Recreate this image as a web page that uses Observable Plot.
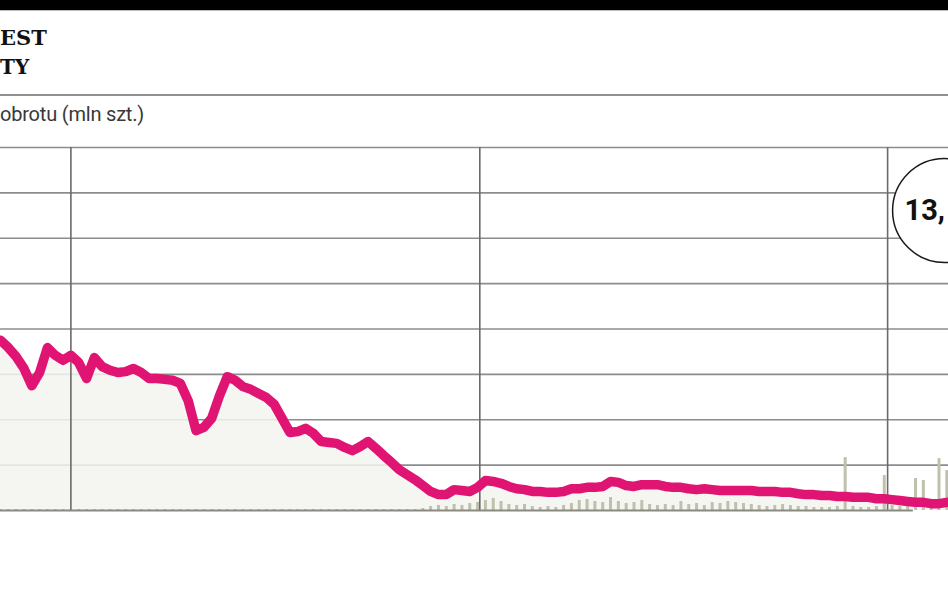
<!DOCTYPE html>
<html>
<head>
<meta charset="utf-8">
<script src="https://cdn.jsdelivr.net/npm/d3@7"></script>
<script src="https://cdn.jsdelivr.net/npm/@observablehq/plot@0.6"></script>
<style>
  html, body { margin: 0; padding: 0; background: #fff; }
  body { width: 948px; height: 593px; overflow: hidden; position: relative; }
  .topbar { position: absolute; left: 0; top: 0; width: 948px; height: 10px; background: #000; border-bottom: 1px solid #bbb; }
  .t1, .t2 { position: absolute; left: 0; font-family: "DejaVu Serif", serif; font-weight: bold; line-height: 1; color: #111; }
  .t1 { top: 27px; font-size: 21px; }
  .t2 { top: 57px; font-size: 20px; }
  .sep { position: absolute; left: 0; top: 94px; width: 948px; height: 2px; background: #909090; }
  .sub { position: absolute; left: 0; top: 104px; font-family: Roboto, sans-serif; font-size: 20px; line-height: 1; color: #383838; letter-spacing: -0.2px; }
  #chart { position: absolute; left: 0; top: 140px; }
</style>
</head>
<body>
<div class="topbar"></div>
<div class="t1">EST</div>
<div class="t2">TY</div>
<div class="sep"></div>
<div class="sub">obrotu (mln szt.)</div>
<div id="chart"></div>
<script>
// Weekly closing values (first week starts 2007-10-30)
const startDate = "2007-10-30";
const price = [
  37.5, 35.9, 33.9, 31.3, 27.5, 30.4, 35.9, 34.2, 33.1, 34.2,
  32.6, 29.1, 33.7, 31.7, 30.9, 30.4, 30.6, 31.3, 30.4, 29.1,
  29.1, 28.9, 28.7, 28.0, 24.2, 17.6, 18.3, 20.3, 25.3, 29.5,
  28.7, 27.3, 26.7, 25.8, 24.9, 23.4, 20.3, 17.2, 17.4, 18.1,
  17.0, 15.2, 15.0, 14.8, 13.9, 13.2, 14.1, 15.2, 13.7, 12.1,
  10.6, 9.0, 7.9, 6.8, 5.5, 4.2, 3.5, 3.5, 4.6, 4.4,
  4.2, 5.1, 6.6, 6.4, 6.0, 5.3, 4.8, 4.6, 4.2, 4.2,
  4.0, 4.0, 4.2, 4.8, 4.8, 5.1, 5.1, 5.3, 6.4, 6.2,
  5.5, 5.3, 5.7, 5.7, 5.7, 5.3, 5.1, 5.1, 4.8, 4.6,
  4.8, 4.6, 4.4, 4.4, 4.4, 4.4, 4.4, 4.2, 4.2, 4.2,
  4.0, 4.0, 3.7, 3.5, 3.5, 3.3, 3.3, 3.1, 3.1, 2.9,
  2.9, 2.9, 2.6, 2.6, 2.4, 2.2, 2.0, 1.8, 1.8, 1.5,
  1.5, 1.8
];
// Weekly turnover (mln szt.)
const volume = [
  0.1, 0.1, 0.1, 0.1, 0.1, 0.1, 0.1, 0.1, 0.1, 0.1,
  0.1, 0.1, 0.1, 0.1, 0.1, 0.1, 0.1, 0.1, 0.1, 0.1,
  0.1, 0.1, 0.1, 0.1, 0.1, 0.1, 0.1, 0.1, 0.1, 0.1,
  0.1, 0.1, 0.1, 0.1, 0.1, 0.1, 0.1, 0.1, 0.1, 0.1,
  0.1, 0.1, 0.1, 0.1, 0.1, 0.1, 0.1, 0.1, 0.1, 0.1,
  0.1, 0.1, 0.1, 0.1,
  0.2, 0.4, 0.5, 0.4, 0.6, 0.5, 0.7, 0.8, 1.0, 1.2,
  0.9, 0.6, 0.5, 0.6, 0.4, 0.3, 0.4, 0.3, 0.5, 0.7,
  1.0, 1.1, 0.9, 0.8, 1.3, 0.9, 0.7, 0.8, 1.0, 0.6,
  0.5, 0.6, 0.5, 0.9, 0.6, 0.7, 0.5, 0.8, 0.7, 0.9,
  0.8, 0.7, 0.6, 0.5, 0.4, 0.5, 0.6, 0.5, 0.4, 0.4,
  0.3, 0.3, 0.3, 0.4, 5.3, 0.4, 0.3, 0.3, 0.4, 3.5,
  0.5, 0.4, 0.5, 3.2, 3.0, 0.8, 5.2, 4.0
];
const yearTicks = ["2008-01-01", "2009-01-01", "2010-01-01"];
const gridValues = [10, 20, 30, 40, 50, 60, 70, 80];
const domainX = ["2007-10-30", "2010-02-24T12:00"];
const baselineEnd = "2010-01-24";
const label = [{date: "2010-02-21", value: 66.1, text: "13,"}];
const volFactor = 2.2; // mln szt. -> chart units

const t0 = new Date(startDate);
const rows = price.map((p, i) => ({
  date: d3.utcDay.offset(t0, 7 * i),
  price: p,
  vol: volume[i] * volFactor
}));

const chart = Plot.plot({
  width: 948,
  height: 453,
  marginTop: 7,
  marginBottom: 83,
  marginLeft: 0,
  marginRight: 0,
  x: {type: "utc", domain: domainX.map(d => new Date(d)), axis: null},
  y: {domain: [0, 80], axis: null},
  marks: [
    Plot.ruleY(gridValues, {stroke: "#8c8c8c", strokeWidth: 1.6}),
    Plot.areaY(rows, {x: "date", y: "price", fill: "#f3f5ef", fillOpacity: 0.85}),
    Plot.ruleX(rows, {x: "date", y1: 0, y2: "vol", stroke: "#bfc1ad", strokeWidth: 3}),
    Plot.ruleX(yearTicks.map(d => new Date(d)), {stroke: "#6a6a6a", strokeWidth: 1.6}),
    Plot.ruleY([0], {x1: new Date(domainX[0]), x2: new Date(baselineEnd), stroke: "#8a8a82", strokeWidth: 2}),
    Plot.lineY(rows, {x: "date", y: "price", stroke: "#e01473", strokeWidth: 9.5, strokeLinejoin: "round", strokeLinecap: "round"}),
    Plot.dot(label, {x: d => new Date(d.date), y: "value", r: 52, stroke: "#1a1a1a", strokeWidth: 1.5, fill: "white"}),
    Plot.text(label, {x: d => new Date(d.date), y: "value", text: "text", dx: -40, textAnchor: "start",
      fontSize: 29, fontWeight: "bold", fontFamily: "Roboto", fill: "#111"})
  ]
});
document.getElementById("chart").appendChild(chart);
</script>
</body>
</html>
